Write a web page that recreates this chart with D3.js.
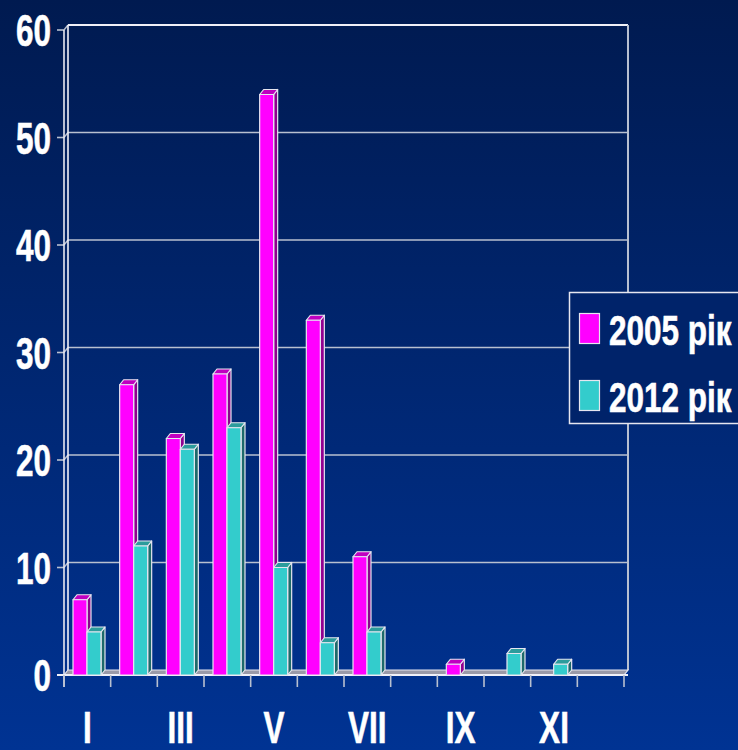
<!DOCTYPE html>
<html><head><meta charset="utf-8">
<script src="https://cdn.jsdelivr.net/npm/d3@7/dist/d3.min.js"></script>
<style>html,body{margin:0;padding:0;background:#001a50;}svg{display:block;}</style>
</head><body>
<svg id="c" width="738" height="750"></svg>
<script>
const categories = ["I","II","III","IV","V","VI","VII","VIII","IX","X","XI","XII"];
const categoryLabels = ["I","","III","","V","","VII","","IX","","XI",""];
const seriesNames = ["2005 рік","2012 рік"];
const values2005 = [7,27,22,28,54,33,11,0,1,0,0,0];
const values2012 = [4,12,21,23,10,3,4,0,0,2,1,0];
const yTicks = [0,10,20,30,40,50,60];

const svg = d3.select("#c");
const W = 738, H = 750;
const defs = svg.append("defs");
const lg = defs.append("linearGradient").attr("id","bg").attr("x1",0).attr("y1",0).attr("x2",0).attr("y2",1);
lg.append("stop").attr("offset","0%").attr("stop-color","#001a50");
lg.append("stop").attr("offset","100%").attr("stop-color","#003393");
svg.append("rect").attr("width",W).attr("height",H).attr("fill","url(#bg)");

const dx = 4, dy = -5;
const x0 = d3.scaleBand().domain(categories).range([64,624]);
const x1 = d3.scaleBand().domain(seriesNames).range([9,37]);
const y = d3.scaleLinear().domain([0,60]).range([675,30]);

const front = ["#ff00ff","#33cccc"];
const topc = ["#c000c0","#2c9c9c"];
const side = ["#900090","#1e6a6a"];
const edge = "#e6e6f0";
const grid = "#b8c0d0";

const xL = x0.range()[0], xR = x0.range()[1];
yTicks.forEach(v=>{
  if (v===0) return;
  svg.append("line").attr("x1",xL+dx).attr("x2",xR+dx).attr("y1",y(v)+dy).attr("y2",y(v)+dy)
    .attr("stroke", v===60? "#f0f0f8":grid).attr("stroke-width",v===60?2:1.6);
  svg.append("line").attr("x1",xL).attr("x2",xL+dx).attr("y1",y(v)).attr("y2",y(v)+dy)
    .attr("stroke",grid).attr("stroke-width",1.4);
  svg.append("line").attr("x1",xL-7).attr("x2",xL).attr("y1",y(v)).attr("y2",y(v))
    .attr("stroke",grid).attr("stroke-width",1.6);
});
svg.append("line").attr("x1",xL+dx).attr("x2",xL+dx).attr("y1",y(60)+dy).attr("y2",y(0)+dy).attr("stroke","#f0f0f8").attr("stroke-width",1.6);
svg.append("line").attr("x1",xR+dx).attr("x2",xR+dx).attr("y1",y(60)+dy).attr("y2",y(0)+dy).attr("stroke",grid).attr("stroke-width",2);
svg.append("line").attr("x1",xL).attr("x2",xL).attr("y1",y(60)).attr("y2",y(0)+12).attr("stroke","#e8e8f0").attr("stroke-width",1.6);
svg.append("path").attr("d",`M${xL},${y(0)}L${xL+dx},${y(0)+dy}L${xR+dx},${y(0)+dy}L${xR},${y(0)}Z`)
  .attr("fill","#9a9aa8").attr("stroke",edge).attr("stroke-width",1.2);
svg.append("line").attr("x1",xL-7).attr("x2",xR+dx).attr("y1",y(0)).attr("y2",y(0)).attr("stroke","#f0f0f8").attr("stroke-width",2);
d3.range(categories.length+1).forEach(i=>{
  const xx = xL + i*x0.bandwidth();
  svg.append("line").attr("x1",xx).attr("x2",xx).attr("y1",y(0)).attr("y2",y(0)+12).attr("stroke",grid).attr("stroke-width",1.6);
});

const seriesVals = [values2005, values2012];
categories.forEach((c,i)=>{
  seriesVals.forEach((vals,s)=>{
    const v = vals[i];
    if (!v) return;
    const x = x0(c)+x1(seriesNames[s]);
    const w = x1.bandwidth();
    const yt = y(v), yb = y(0);
    const g = svg.append("g").attr("stroke",edge).attr("stroke-width",1.2).attr("stroke-linejoin","round");
    g.append("path").attr("d",`M${x+w},${yt}L${x+w+dx},${yt+dy}L${x+w+dx},${yb+dy}L${x+w},${yb}Z`).attr("fill",side[s]);
    g.append("path").attr("d",`M${x},${yt}L${x+dx},${yt+dy}L${x+w+dx},${yt+dy}L${x+w},${yt}Z`).attr("fill",topc[s]);
    g.append("rect").attr("x",x).attr("y",yt).attr("width",w).attr("height",yb-yt).attr("fill",front[s]);
  });
});

const font = "'Liberation Sans', Arial, sans-serif";
yTicks.forEach(v=>{
  svg.append("text").attr("transform",`translate(51,${y(v)+16}) scale(0.7,1)`)
    .attr("text-anchor","end").attr("font-family",font).attr("font-weight","bold").attr("font-size",45)
    .attr("fill","#ffffff").attr("stroke","#ffffff").attr("stroke-width",0.6).text(v);
});
categories.forEach((c,i)=>{
  if (!categoryLabels[i]) return;
  svg.append("text").attr("transform",`translate(${x0(c)+x0.bandwidth()/2},743) scale(0.7,1)`)
    .attr("text-anchor","middle").attr("font-family",font).attr("font-weight","bold").attr("font-size",45)
    .attr("fill","#ffffff").attr("stroke","#ffffff").attr("stroke-width",0.6).text(categoryLabels[i]);
});

const leg = svg.append("g");
leg.append("rect").attr("x",569.5).attr("y",292.5).attr("width",170).attr("height",131)
  .attr("fill","#00236a").attr("stroke","#e6e6f0").attr("stroke-width",1.5);
seriesNames.forEach((n,s)=>{
  const yy = 313 + s*67;
  leg.append("rect").attr("x",579.5).attr("y",yy+0.5).attr("width",20).attr("height",30)
    .attr("fill",front[s]).attr("stroke","#e6e6f0").attr("stroke-width",1.2);
  leg.append("text").attr("transform",`translate(609,${yy+32}) scale(0.75,1)`)
    .attr("font-family",font).attr("font-weight","bold").attr("font-size",42)
    .attr("fill","#ffffff").attr("stroke","#ffffff").attr("stroke-width",0.6).text(n);
});
</script>
</body></html>
